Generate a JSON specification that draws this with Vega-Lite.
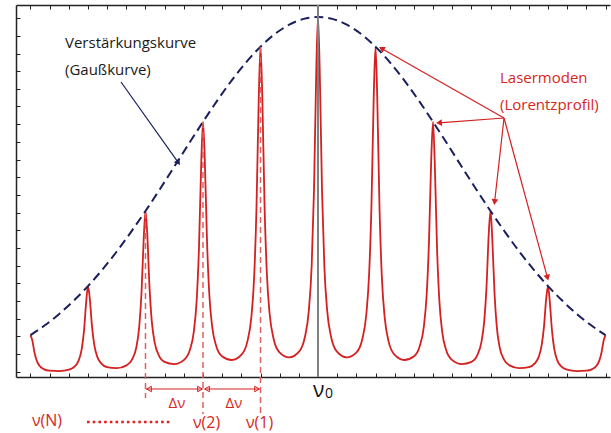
{
"$schema": "https://vega.github.io/schema/vega-lite/v6.json",
"width": 594, "height": 372,
"autosize": {"type": "none"},
"padding": {"left": 16, "top": 5, "right": 1, "bottom": 56},
"background": "white",
"config": {"view": {"stroke": null}, "font": "Open Sans"},
"resolve": {"axis": {"x": "independent", "y": "independent"}},
"datasets": {
"modes": [
{"u":-5,"v":41.9},{"u":-4.97,"v":37.0},{"u":-4.93,"v":24.3},{"u":-4.89,"v":16.1},{"u":-4.84,"v":11.0},{"u":-4.77,"v":7.9},{"u":-4.67,"v":6.3},{"u":-4.5,"v":5.9},{"u":-4.33,"v":7.3},{"u":-4.23,"v":10.6},{"u":-4.16,"v":16.9},{"u":-4.11,"v":27.7},{"u":-4.07,"v":45.8},{"u":-4.03,"v":76.2},
{"u":-4,"v":90.9},{"u":-3.97,"v":79.3},{"u":-3.93,"v":50.3},{"u":-3.89,"v":31.8},{"u":-3.84,"v":20.4},{"u":-3.77,"v":13.6},{"u":-3.67,"v":9.9},{"u":-3.5,"v":8.8},{"u":-3.33,"v":11.6},{"u":-3.23,"v":17.8},{"u":-3.16,"v":29.5},{"u":-3.11,"v":49.7},{"u":-3.07,"v":83.5},{"u":-3.03,"v":139.4},
{"u":-3,"v":166.0},{"u":-2.97,"v":143.8},{"u":-2.93,"v":89.6},{"u":-2.89,"v":55.4},{"u":-2.84,"v":34.4},{"u":-2.77,"v":21.8},{"u":-2.67,"v":15.1},{"u":-2.5,"v":12.9},{"u":-2.33,"v":17.1},{"u":-2.23,"v":26.8},{"u":-2.16,"v":45.2},{"u":-2.11,"v":76.6},{"u":-2.07,"v":129.1},{"u":-2.03,"v":215.2},
{"u":-2,"v":255.2},{"u":-1.97,"v":219.6},{"u":-1.93,"v":135.4},{"u":-1.89,"v":82.5},{"u":-1.84,"v":50.2},{"u":-1.77,"v":30.9},{"u":-1.67,"v":20.7},{"u":-1.5,"v":17.0},{"u":-1.33,"v":22.3},{"u":-1.23,"v":35.1},{"u":-1.16,"v":59.3},{"u":-1.11,"v":100.4},{"u":-1.07,"v":168.6},{"u":-1.03,"v":279.8},
{"u":-1,"v":330.3},{"u":-0.97,"v":282.7},{"u":-0.93,"v":172.7},{"u":-0.89,"v":104.2},{"u":-0.84,"v":62.5},{"u":-0.77,"v":37.8},{"u":-0.67,"v":24.7},{"u":-0.5,"v":19.6},{"u":-0.33,"v":25.3},{"u":-0.23,"v":39.5},{"u":-0.16,"v":66.1},{"u":-0.11,"v":111.3},{"u":-0.07,"v":185.9},{"u":-0.03,"v":306.4},
{"u":0,"v":360},
{"u":0.03,"v":306.4},{"u":0.07,"v":185.9},{"u":0.11,"v":111.3},{"u":0.16,"v":66.1},{"u":0.23,"v":39.5},{"u":0.33,"v":25.3},{"u":0.5,"v":19.6},{"u":0.67,"v":24.7},{"u":0.77,"v":37.8},{"u":0.84,"v":62.5},{"u":0.89,"v":104.2},{"u":0.93,"v":172.7},{"u":0.97,"v":282.7},
{"u":1,"v":330.3},{"u":1.03,"v":279.8},{"u":1.07,"v":168.6},{"u":1.11,"v":100.4},{"u":1.16,"v":59.3},{"u":1.23,"v":35.1},{"u":1.33,"v":22.3},{"u":1.5,"v":17.0},{"u":1.67,"v":20.7},{"u":1.77,"v":30.9},{"u":1.84,"v":50.2},{"u":1.89,"v":82.5},{"u":1.93,"v":135.4},{"u":1.97,"v":219.6},
{"u":2,"v":255.2},{"u":2.03,"v":215.2},{"u":2.07,"v":129.1},{"u":2.11,"v":76.6},{"u":2.16,"v":45.2},{"u":2.23,"v":26.8},{"u":2.33,"v":17.1},{"u":2.5,"v":12.9},{"u":2.67,"v":15.1},{"u":2.77,"v":21.8},{"u":2.84,"v":34.4},{"u":2.89,"v":55.4},{"u":2.93,"v":89.6},{"u":2.97,"v":143.8},
{"u":3,"v":166.0},{"u":3.03,"v":139.4},{"u":3.07,"v":83.5},{"u":3.11,"v":49.7},{"u":3.16,"v":29.5},{"u":3.23,"v":17.8},{"u":3.33,"v":11.6},{"u":3.5,"v":8.8},{"u":3.67,"v":9.9},{"u":3.77,"v":13.6},{"u":3.84,"v":20.4},{"u":3.89,"v":31.8},{"u":3.93,"v":50.3},{"u":3.97,"v":79.3},
{"u":4,"v":90.9},{"u":4.03,"v":76.2},{"u":4.07,"v":45.8},{"u":4.11,"v":27.7},{"u":4.16,"v":16.9},{"u":4.23,"v":10.6},{"u":4.33,"v":7.3},{"u":4.5,"v":5.9},{"u":4.67,"v":6.3},{"u":4.77,"v":7.9},{"u":4.84,"v":11.0},{"u":4.89,"v":16.1},{"u":4.93,"v":24.3},{"u":4.97,"v":37.0},
{"u":5,"v":41.9}
],
"gain": [
{"u":-5,"v":41.9},{"u":-4.75,"v":51.7},{"u":-4.5,"v":63.1},{"u":-4.25,"v":76.2},{"u":-4,"v":90.9},{"u":-3.75,"v":107.4},{"u":-3.5,"v":125.5},{"u":-3.25,"v":145.2},{"u":-3,"v":166.0},{"u":-2.75,"v":187.8},{"u":-2.5,"v":210.3},{"u":-2.25,"v":232.9},{"u":-2,"v":255.2},{"u":-1.75,"v":276.6},{"u":-1.5,"v":296.7},{"u":-1.25,"v":314.7},{"u":-1,"v":330.3},{"u":-0.75,"v":343.0},{"u":-0.5,"v":352.3},{"u":-0.25,"v":358.1},
{"u":0,"v":360},
{"u":0.25,"v":358.1},{"u":0.5,"v":352.3},{"u":0.75,"v":343.0},{"u":1,"v":330.3},{"u":1.25,"v":314.7},{"u":1.5,"v":296.7},{"u":1.75,"v":276.6},{"u":2,"v":255.2},{"u":2.25,"v":232.9},{"u":2.5,"v":210.3},{"u":2.75,"v":187.8},{"u":3,"v":166.0},{"u":3.25,"v":145.2},{"u":3.5,"v":125.5},{"u":3.75,"v":107.4},{"u":4,"v":90.9},{"u":4.25,"v":76.2},{"u":4.5,"v":63.1},{"u":4.75,"v":51.7},{"u":5,"v":41.9}
],
"redArrows": [
{"u":3.235,"v":259,"u2":1.106,"v2":328.5,"ang":299.6},
{"u":3.235,"v":259,"u2":2.104,"v2":254.2,"ang":265.8},
{"u":3.235,"v":259,"u2":3.071,"v2":175,"ang":186.6},
{"u":3.235,"v":259,"u2":3.991,"v2":99.2,"ang":164.9}
],
"navyArrow": [{"u":-3.426,"v":295,"u2":-2.429,"v2":214.4,"ang":144.6}],
"spacing": [{"u":-2.99,"u2":-2.01,"v":-12},{"u":-1.97,"u2":-1.02,"v":-12}],
"spacingHeads": [{"u":-2.939,"v":-12,"ang":270},{"u":-2.052,"v":-12,"ang":90},{"u":-1.93,"v":-12,"ang":270},{"u":-1.06,"v":-12,"ang":90}],
"modeLines": [{"u":-3,"v":164,"v2":-21},{"u":-2,"v":255,"v2":-37},{"u":-1,"v":330,"v2":-38}],
"center": [{"u":0,"v":0,"v2":372}],
"dots": [{"u":-4.017,"u2":-2.539,"v":-45}],
"blackText": [{"u":-4.4,"v":334,"t":"Verstärkungskurve"},{"u":-4.4,"v":307,"t":"(Gaußkurve)"}],
"redText": [{"u":3.165,"v":299,"t":"Lasermoden"},{"u":3.165,"v":272,"t":"(Lorentzprofil)"}],
"deltaLabels": [{"u":-2.452,"v":-26,"t":"Δν"},{"u":-1.461,"v":-26,"t":"Δν"}],
"nuLabels": [{"u":-4.713,"v":-44,"t":"ν(N)"},{"u":-1.939,"v":-46,"t":"ν(2)"},{"u":-1.017,"v":-46,"t":"ν(1)"}],
"nuZero": [{"u":0.01,"v":-14,"t":"ν"}],
"zero": [{"u":0.191,"v":-16.5,"t":"0"}]
},
"layer": [
{"data": {"name": "modes"},
 "mark": {"type": "line", "color": "#d42020", "strokeWidth": 1.8, "interpolate": "monotone"},
 "encoding": {
  "x": {"field": "u", "type": "quantitative", "scale": {"domain": [-5.252, 5.078], "nice": false, "zero": false},
   "axis": {"orient": "bottom", "values": [-5,-4.6667,-4.3333,-4,-3.6667,-3.3333,-3,-2.6667,-2.3333,-2,-1.6667,-1.3333,-1,-0.6667,-0.3333,0,0.3333,0.6667,1,1.3333,1.6667,2,2.3333,2.6667,3,3.3333,3.6667,4,4.3333,4.6667,5],
    "labels": false, "title": null, "grid": false, "tickSize": -4, "tickColor": "#222", "tickWidth": 1, "domainColor": "#222", "domainWidth": 1.5}},
  "y": {"field": "v", "type": "quantitative", "scale": {"domain": [0, 372], "nice": false, "zero": false},
   "axis": {"orient": "left", "values": [5.3,23,40.7,58.3,76,93.7,111.4,129.1,146.7,164.4,182.1,199.8,217.5,235.1,252.8,270.5,288.2,305.9,323.5,341.2,358.9],
    "labels": false, "title": null, "grid": false, "tickSize": -4, "tickColor": "#222", "tickWidth": 1, "domainColor": "#222", "domainWidth": 1.5}}
 }},
{"data": {"name": "gain"},
 "mark": {"type": "line", "color": "#1b1f5e", "strokeWidth": 2, "strokeDash": [9, 5], "interpolate": "monotone"},
 "encoding": {
  "x": {"field": "u", "type": "quantitative", "scale": {"domain": [-5.252, 5.078], "nice": false, "zero": false},
   "axis": {"orient": "top", "values": [-5,-4.6667,-4.3333,-4,-3.6667,-3.3333,-3,-2.6667,-2.3333,-2,-1.6667,-1.3333,-1,-0.6667,-0.3333,0,0.3333,0.6667,1,1.3333,1.6667,2,2.3333,2.6667,3,3.3333,3.6667,4,4.3333,4.6667,5],
    "labels": false, "title": null, "grid": false, "tickSize": -4, "tickColor": "#222", "tickWidth": 1, "domainColor": "#222", "domainWidth": 1.5}},
  "y": {"field": "v", "type": "quantitative", "scale": {"domain": [0, 372], "nice": false, "zero": false}, "axis": null}
 }},
{"data": {"name": "modeLines"},
 "mark": {"type": "rule", "color": "#e06060", "strokeWidth": 1.5, "strokeDash": [6, 4]},
 "encoding": {
  "x": {"field": "u", "type": "quantitative", "axis": null},
  "y": {"field": "v", "type": "quantitative", "axis": null},
  "y2": {"field": "v2"}
 }},
{"data": {"name": "center"},
 "mark": {"type": "rule", "color": "#808080", "strokeWidth": 2},
 "encoding": {
  "x": {"field": "u", "type": "quantitative", "axis": null},
  "y": {"field": "v", "type": "quantitative", "axis": null},
  "y2": {"field": "v2"}
 }},
{"data": {"name": "redArrows"},
 "mark": {"type": "rule", "color": "#d42020", "strokeWidth": 1.2},
 "encoding": {
  "x": {"field": "u", "type": "quantitative", "axis": null},
  "y": {"field": "v", "type": "quantitative", "axis": null},
  "x2": {"field": "u2"}, "y2": {"field": "v2"}
 }},
{"data": {"name": "redArrows"},
 "mark": {"type": "point", "shape": "triangle-up", "filled": true, "color": "#d42020", "size": 45, "opacity": 1},
 "encoding": {
  "x": {"field": "u2", "type": "quantitative", "axis": null},
  "y": {"field": "v2", "type": "quantitative", "axis": null},
  "angle": {"field": "ang", "type": "quantitative", "scale": null}
 }},
{"data": {"name": "navyArrow"},
 "mark": {"type": "rule", "color": "#1b1f5e", "strokeWidth": 1.2},
 "encoding": {
  "x": {"field": "u", "type": "quantitative", "axis": null},
  "y": {"field": "v", "type": "quantitative", "axis": null},
  "x2": {"field": "u2"}, "y2": {"field": "v2"}
 }},
{"data": {"name": "navyArrow"},
 "mark": {"type": "point", "shape": "triangle-up", "filled": true, "color": "#1b1f5e", "size": 45, "opacity": 1},
 "encoding": {
  "x": {"field": "u2", "type": "quantitative", "axis": null},
  "y": {"field": "v2", "type": "quantitative", "axis": null},
  "angle": {"field": "ang", "type": "quantitative", "scale": null}
 }},
{"data": {"name": "spacing"},
 "mark": {"type": "rule", "color": "#d42020", "strokeWidth": 1.2},
 "encoding": {
  "x": {"field": "u", "type": "quantitative", "axis": null},
  "x2": {"field": "u2"},
  "y": {"field": "v", "type": "quantitative", "axis": null}
 }},
{"data": {"name": "spacingHeads"},
 "mark": {"type": "point", "shape": "triangle-up", "filled": false, "color": "#d42020", "strokeWidth": 1, "size": 30, "opacity": 1},
 "encoding": {
  "x": {"field": "u", "type": "quantitative", "axis": null},
  "y": {"field": "v", "type": "quantitative", "axis": null},
  "angle": {"field": "ang", "type": "quantitative", "scale": null}
 }},
{"data": {"name": "dots"},
 "mark": {"type": "rule", "color": "#e02020", "strokeWidth": 2.6, "strokeDash": [2.6, 3.1], "strokeCap": "butt"},
 "encoding": {
  "x": {"field": "u", "type": "quantitative", "axis": null},
  "x2": {"field": "u2"},
  "y": {"field": "v", "type": "quantitative", "axis": null}
 }},
{"data": {"name": "blackText"},
 "mark": {"type": "text", "align": "left", "baseline": "middle", "fontSize": 15, "color": "#1a1a1a"},
 "encoding": {
  "x": {"field": "u", "type": "quantitative", "axis": null},
  "y": {"field": "v", "type": "quantitative", "axis": null},
  "text": {"field": "t"}
 }},
{"data": {"name": "redText"},
 "mark": {"type": "text", "align": "left", "baseline": "middle", "fontSize": 15, "color": "#d8261c"},
 "encoding": {
  "x": {"field": "u", "type": "quantitative", "axis": null},
  "y": {"field": "v", "type": "quantitative", "axis": null},
  "text": {"field": "t"}
 }},
{"data": {"name": "deltaLabels"},
 "mark": {"type": "text", "align": "center", "baseline": "middle", "fontSize": 15, "color": "#d8261c"},
 "encoding": {
  "x": {"field": "u", "type": "quantitative", "axis": null},
  "y": {"field": "v", "type": "quantitative", "axis": null},
  "text": {"field": "t"}
 }},
{"data": {"name": "nuLabels"},
 "mark": {"type": "text", "align": "center", "baseline": "middle", "fontSize": 16, "color": "#d8261c"},
 "encoding": {
  "x": {"field": "u", "type": "quantitative", "axis": null},
  "y": {"field": "v", "type": "quantitative", "axis": null},
  "text": {"field": "t"}
 }},
{"data": {"name": "nuZero"},
 "mark": {"type": "text", "align": "center", "baseline": "middle", "fontSize": 21, "color": "#111"},
 "encoding": {
  "x": {"field": "u", "type": "quantitative", "axis": null},
  "y": {"field": "v", "type": "quantitative", "axis": null},
  "text": {"field": "t"}
 }},
{"data": {"name": "zero"},
 "mark": {"type": "text", "align": "center", "baseline": "middle", "fontSize": 14, "color": "#111"},
 "encoding": {
  "x": {"field": "u", "type": "quantitative", "axis": null},
  "y": {"field": "v", "type": "quantitative", "axis": null},
  "text": {"field": "t"}
 }}
]
}
